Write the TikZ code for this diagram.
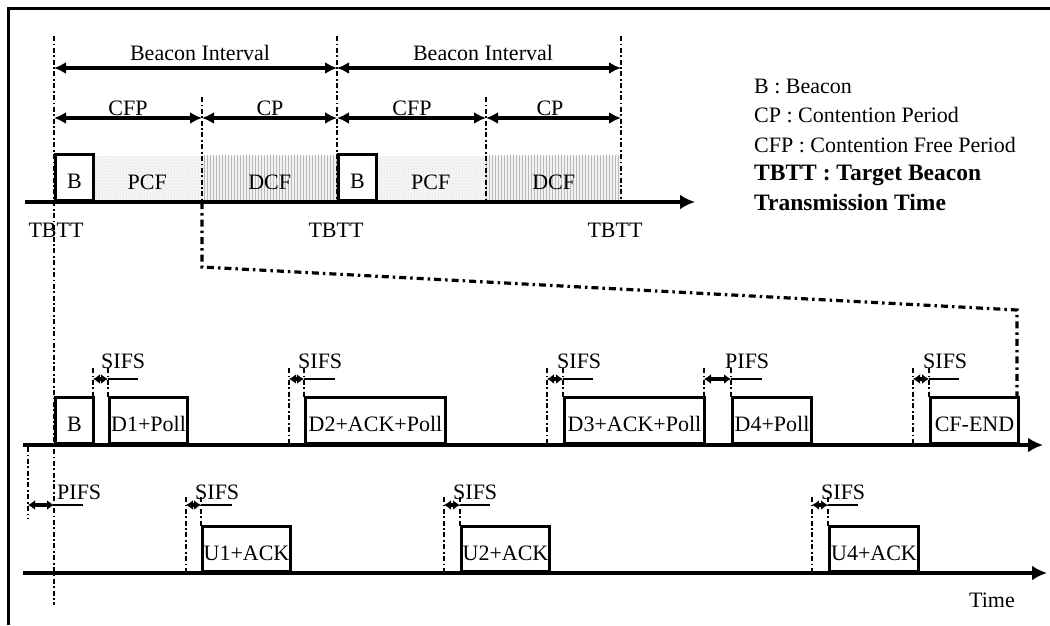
\documentclass[tikz,border=0pt]{standalone}
\usepackage{fontspec}
\setmainfont{Liberation Serif}
\usetikzlibrary{arrows.meta,patterns}
\begin{document}
\begin{tikzpicture}[x=1pt,y=-1pt,
  txt/.style={font=\fontsize{22}{24}\selectfont, inner sep=0pt},
  boldtxt/.style={font=\fontsize{23.5}{25}\selectfont\bfseries, inner sep=0pt},
  dd/.style={line width=2pt, dash pattern=on 5pt off 2.5pt on 1.8pt off 2.5pt},
  zoomline/.style={line width=3.2pt, dash pattern=on 7pt off 4pt on 2.5pt off 4pt},
  axis/.style={line width=3.8pt, -{Latex[length=15pt,width=15pt]}},
  frm/.style={draw, line width=3pt, fill=white, anchor=south west, minimum height=46pt,
     inner sep=0pt, text height=22pt, text depth=0pt, font=\fontsize{22}{24}\selectfont},
  pcf/.style={anchor=south west, minimum height=46pt, inner sep=0pt, text height=22pt, text depth=0pt,
     font=\fontsize{22}{24}\selectfont, preaction={fill=gray!8}, pattern=dots, pattern color=gray!45},
  dcf/.style={anchor=south west, minimum height=46pt, inner sep=0pt, text height=22pt, text depth=0pt,
     font=\fontsize{22}{24}\selectfont, preaction={fill=gray!10}, pattern=vertical lines, pattern color=gray!55},
  span/.style={line width=3.8pt, {Latex[length=12pt,width=12pt]}-{Latex[length=12pt,width=12pt]}},
  ifs/.style={line width=3.2pt, {Latex[length=7pt,width=10pt]}-{Latex[length=7pt,width=10pt]}},
  lead/.style={line width=2.6pt}]
\useasboundingbox (0,0) rectangle (1050,625);
% frame
\draw[line width=3pt] (8,625) -- (8,8) -- (1050,8);

% ---------- top timeline ----------
\coordinate (t1top) at (54,36);   \coordinate (t1bot) at (54,605);
\coordinate (t2top) at (337,36);  \coordinate (t2bot) at (337,202);
\coordinate (t3top) at (621,36);  \coordinate (t3bot) at (621,202);
\coordinate (c1top) at (202,97);  \coordinate (c1bot) at (202,202);
\coordinate (c2top) at (486,97);  \coordinate (c2bot) at (486,202);

\node[pcf, minimum width=110pt] (pcf1) at (92,202) {PCF};
\node[dcf, minimum width=135pt] (dcf1) at (202,202) {DCF};
\node[pcf, minimum width=111pt] (pcf2) at (375,202) {PCF};
\node[dcf, minimum width=135pt] (dcf2) at (486,202) {DCF};
\node[frm, minimum width=38pt] (b1) at (54,202) {B};
\node[frm, minimum width=38pt] (b2) at (337,202) {B};

\coordinate (ax1s) at (25,202); \coordinate (ax1e) at (695,202);
\draw[axis] (ax1s) -- (ax1e);

\draw[dd] (t1top) -- (t1bot);
\draw[dd] (t2top) -- (t2bot);
\draw[dd] (t3top) -- (t3bot);
\draw[dd] (c1top) -- (c1bot);
\draw[dd] (c2top) -- (c2bot);

\draw[span] (54,68) -- (337,68);
\draw[span] (337,68) -- (621,68);
\draw[span] (54,118) -- (202,118);
\draw[span] (202,118) -- (337,118);
\draw[span] (337,118) -- (486,118);
\draw[span] (486,118) -- (621,118);

\node[txt, anchor=base] (bi1) at (200,60) {Beacon Interval};
\node[txt, anchor=base] (bi2) at (483,60) {Beacon Interval};
\node[txt, anchor=base] (cfp1) at (128,115) {CFP};
\node[txt, anchor=base] (cp1) at (270,115) {CP};
\node[txt, anchor=base] (cfp2) at (412,115) {CFP};
\node[txt, anchor=base] (cp2) at (550,115) {CP};

\node[txt, anchor=base] (tb1) at (56,237) {TBTT};
\node[txt, anchor=base] (tb2) at (336,237) {TBTT};
\node[txt, anchor=base] (tb3) at (615,237) {TBTT};

% legend
\node[txt, anchor=base west] (l1) at (754,93) {B : Beacon};
\node[txt, anchor=base west] (l2) at (754,122) {CP : Contention Period};
\node[txt, anchor=base west] (l3) at (754,152) {CFP : Contention Free Period};
\node[boldtxt, anchor=base west] (l4) at (754,180) {TBTT : Target Beacon};
\node[boldtxt, anchor=base west] (l5) at (754,210) {Transmission Time};

% zoom line
\coordinate (z1) at (202,267); \coordinate (z2) at (1017,310); \coordinate (z3) at (1017,399);
\draw[zoomline] (c1bot) -- (z1) -- (z2) -- (z3);

% ---------- middle timeline (AP) ----------
\coordinate (ax2s) at (23,445); \coordinate (ax2e) at (1043,445);
\draw[axis] (ax2s) -- (ax2e);
\node[frm, minimum width=38pt] (mb) at (54,445) {B};
\node[frm, minimum width=78pt] (d1) at (108,445) {D1+Poll};
\node[frm, minimum width=140pt] (d2) at (304,445) {D2+ACK+Poll};
\node[frm, minimum width=140pt] (d3) at (563,445) {D3+ACK+Poll};
\node[frm, minimum width=79pt] (d4) at (731,445) {D4+Poll};
\node[frm, minimum width=88pt] (cfend) at (929,445) {CF-END};

\foreach \xa/\xb in {93/108, 289/304, 547/563, 704/731, 913/929}{
  \draw[dd] (\xa,368) -- (\xa,445);
  \draw[dd] (\xb,368) -- (\xb,399);
}
\draw[ifs] (93,379) -- (108,379);  \draw[lead] (108,379) -- (138,379);
\draw[ifs] (289,379) -- (304,379); \draw[lead] (304,379) -- (335,379);
\draw[ifs] (547,379) -- (563,379); \draw[lead] (563,379) -- (593,379);
\draw[ifs] (704,379) -- (731,379); \draw[lead] (731,379) -- (762,379);
\draw[ifs] (913,379) -- (929,379); \draw[lead] (929,379) -- (959,379);
\node[txt, anchor=base west] (s1) at (101,368) {SIFS};
\node[txt, anchor=base west] (s2) at (298,368) {SIFS};
\node[txt, anchor=base west] (s3) at (557,368) {SIFS};
\node[txt, anchor=base west] (p1) at (725,368) {PIFS};
\node[txt, anchor=base west] (s4) at (923,368) {SIFS};

% ---------- bottom timeline (stations) ----------
\coordinate (ax3s) at (23,573); \coordinate (ax3e) at (1047,573);
\draw[axis] (ax3s) -- (ax3e);
\node[frm, minimum width=88pt, minimum height=45pt] (u1) at (201,573) {U1+ACK};
\node[frm, minimum width=88pt, minimum height=45pt] (u2) at (460,573) {U2+ACK};
\node[frm, minimum width=89pt, minimum height=45pt] (u4) at (828,573) {U4+ACK};

\draw[dd] (28,447) -- (28,518);
\foreach \xa/\xb in {186/201, 444/460, 812/828}{
  \draw[dd] (\xa,497) -- (\xa,573);
  \draw[dd] (\xb,497) -- (\xb,528);
}
\draw[ifs] (28,505) -- (54,505);   \draw[lead] (54,505) -- (83,505);
\draw[ifs] (186,505) -- (201,505); \draw[lead] (201,505) -- (232,505);
\draw[ifs] (444,505) -- (460,505); \draw[lead] (460,505) -- (490,505);
\draw[ifs] (812,505) -- (828,505); \draw[lead] (828,505) -- (858,505);
\node[txt, anchor=base west] (p2) at (57,499) {PIFS};
\node[txt, anchor=base west] (s5) at (195,499) {SIFS};
\node[txt, anchor=base west] (s6) at (453,499) {SIFS};
\node[txt, anchor=base west] (s7) at (821,499) {SIFS};

\node[txt, anchor=base] (time) at (992,607) {Time};
\end{tikzpicture}
\end{document}
